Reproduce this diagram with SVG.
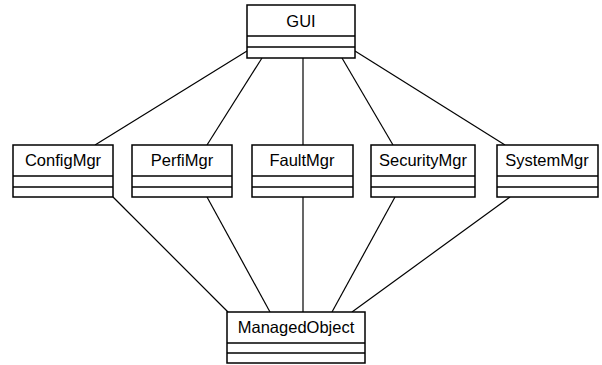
<svg xmlns="http://www.w3.org/2000/svg" width="602" height="365" viewBox="0 0 602 365">
<style>
.box{fill:#fff;stroke:#000;stroke-width:1.5}
.div{stroke:#000;stroke-width:1.5}
.lbl{font-family:"Liberation Sans",Arial,sans-serif;font-size:16.5px;text-anchor:middle;fill:#000}
.con{stroke:#000;stroke-width:1.2;fill:none}
</style>
<rect width="602" height="365" fill="#fff"/>
<g id="connectors">
<line class="con" x1="247" y1="51" x2="95" y2="145"/>
<line class="con" x1="262" y1="58" x2="207" y2="145"/>
<line class="con" x1="303" y1="58" x2="303" y2="145"/>
<line class="con" x1="342" y1="58" x2="393" y2="145"/>
<line class="con" x1="355" y1="51" x2="505" y2="145"/>
<line class="con" x1="113" y1="197" x2="228" y2="312"/>
<line class="con" x1="207" y1="197" x2="270" y2="312"/>
<line class="con" x1="303" y1="197" x2="303" y2="312"/>
<line class="con" x1="395" y1="197" x2="332" y2="312"/>
<line class="con" x1="510" y1="197" x2="352" y2="312"/>
</g>
<g id="GUI">
<rect class="box" x="247" y="5" width="108" height="53"/>
<line class="div" x1="247" y1="36" x2="355" y2="36"/>
<line class="div" x1="247" y1="47" x2="355" y2="47"/>
<text class="lbl" x="301" y="27">GUI</text>
</g>
<g id="ConfigMgr">
<rect class="box" x="13" y="145" width="100" height="52"/>
<line class="div" x1="13" y1="176" x2="113" y2="176"/>
<line class="div" x1="13" y1="187" x2="113" y2="187"/>
<text class="lbl" x="63" y="166">ConfigMgr</text>
</g>
<g id="PerfiMgr">
<rect class="box" x="132" y="145" width="100" height="52"/>
<line class="div" x1="132" y1="176" x2="232" y2="176"/>
<line class="div" x1="132" y1="187" x2="232" y2="187"/>
<text class="lbl" x="182" y="166">PerfiMgr</text>
</g>
<g id="FaultMgr">
<rect class="box" x="252" y="145" width="101" height="52"/>
<line class="div" x1="252" y1="176" x2="353" y2="176"/>
<line class="div" x1="252" y1="187" x2="353" y2="187"/>
<text class="lbl" x="302" y="166">FaultMgr</text>
</g>
<g id="SecurityMgr">
<rect class="box" x="371" y="145" width="104" height="52"/>
<line class="div" x1="371" y1="176" x2="475" y2="176"/>
<line class="div" x1="371" y1="187" x2="475" y2="187"/>
<text class="lbl" x="423" y="166">SecurityMgr</text>
</g>
<g id="SystemMgr">
<rect class="box" x="497" y="145" width="101" height="52"/>
<line class="div" x1="497" y1="176" x2="598" y2="176"/>
<line class="div" x1="497" y1="187" x2="598" y2="187"/>
<text class="lbl" x="547" y="166">SystemMgr</text>
</g>
<g id="ManagedObject">
<rect class="box" x="227" y="312" width="138" height="51"/>
<line class="div" x1="227" y1="343" x2="365" y2="343"/>
<line class="div" x1="227" y1="353" x2="365" y2="353"/>
<text class="lbl" x="296" y="333">ManagedObject</text>
</g>
</svg>
